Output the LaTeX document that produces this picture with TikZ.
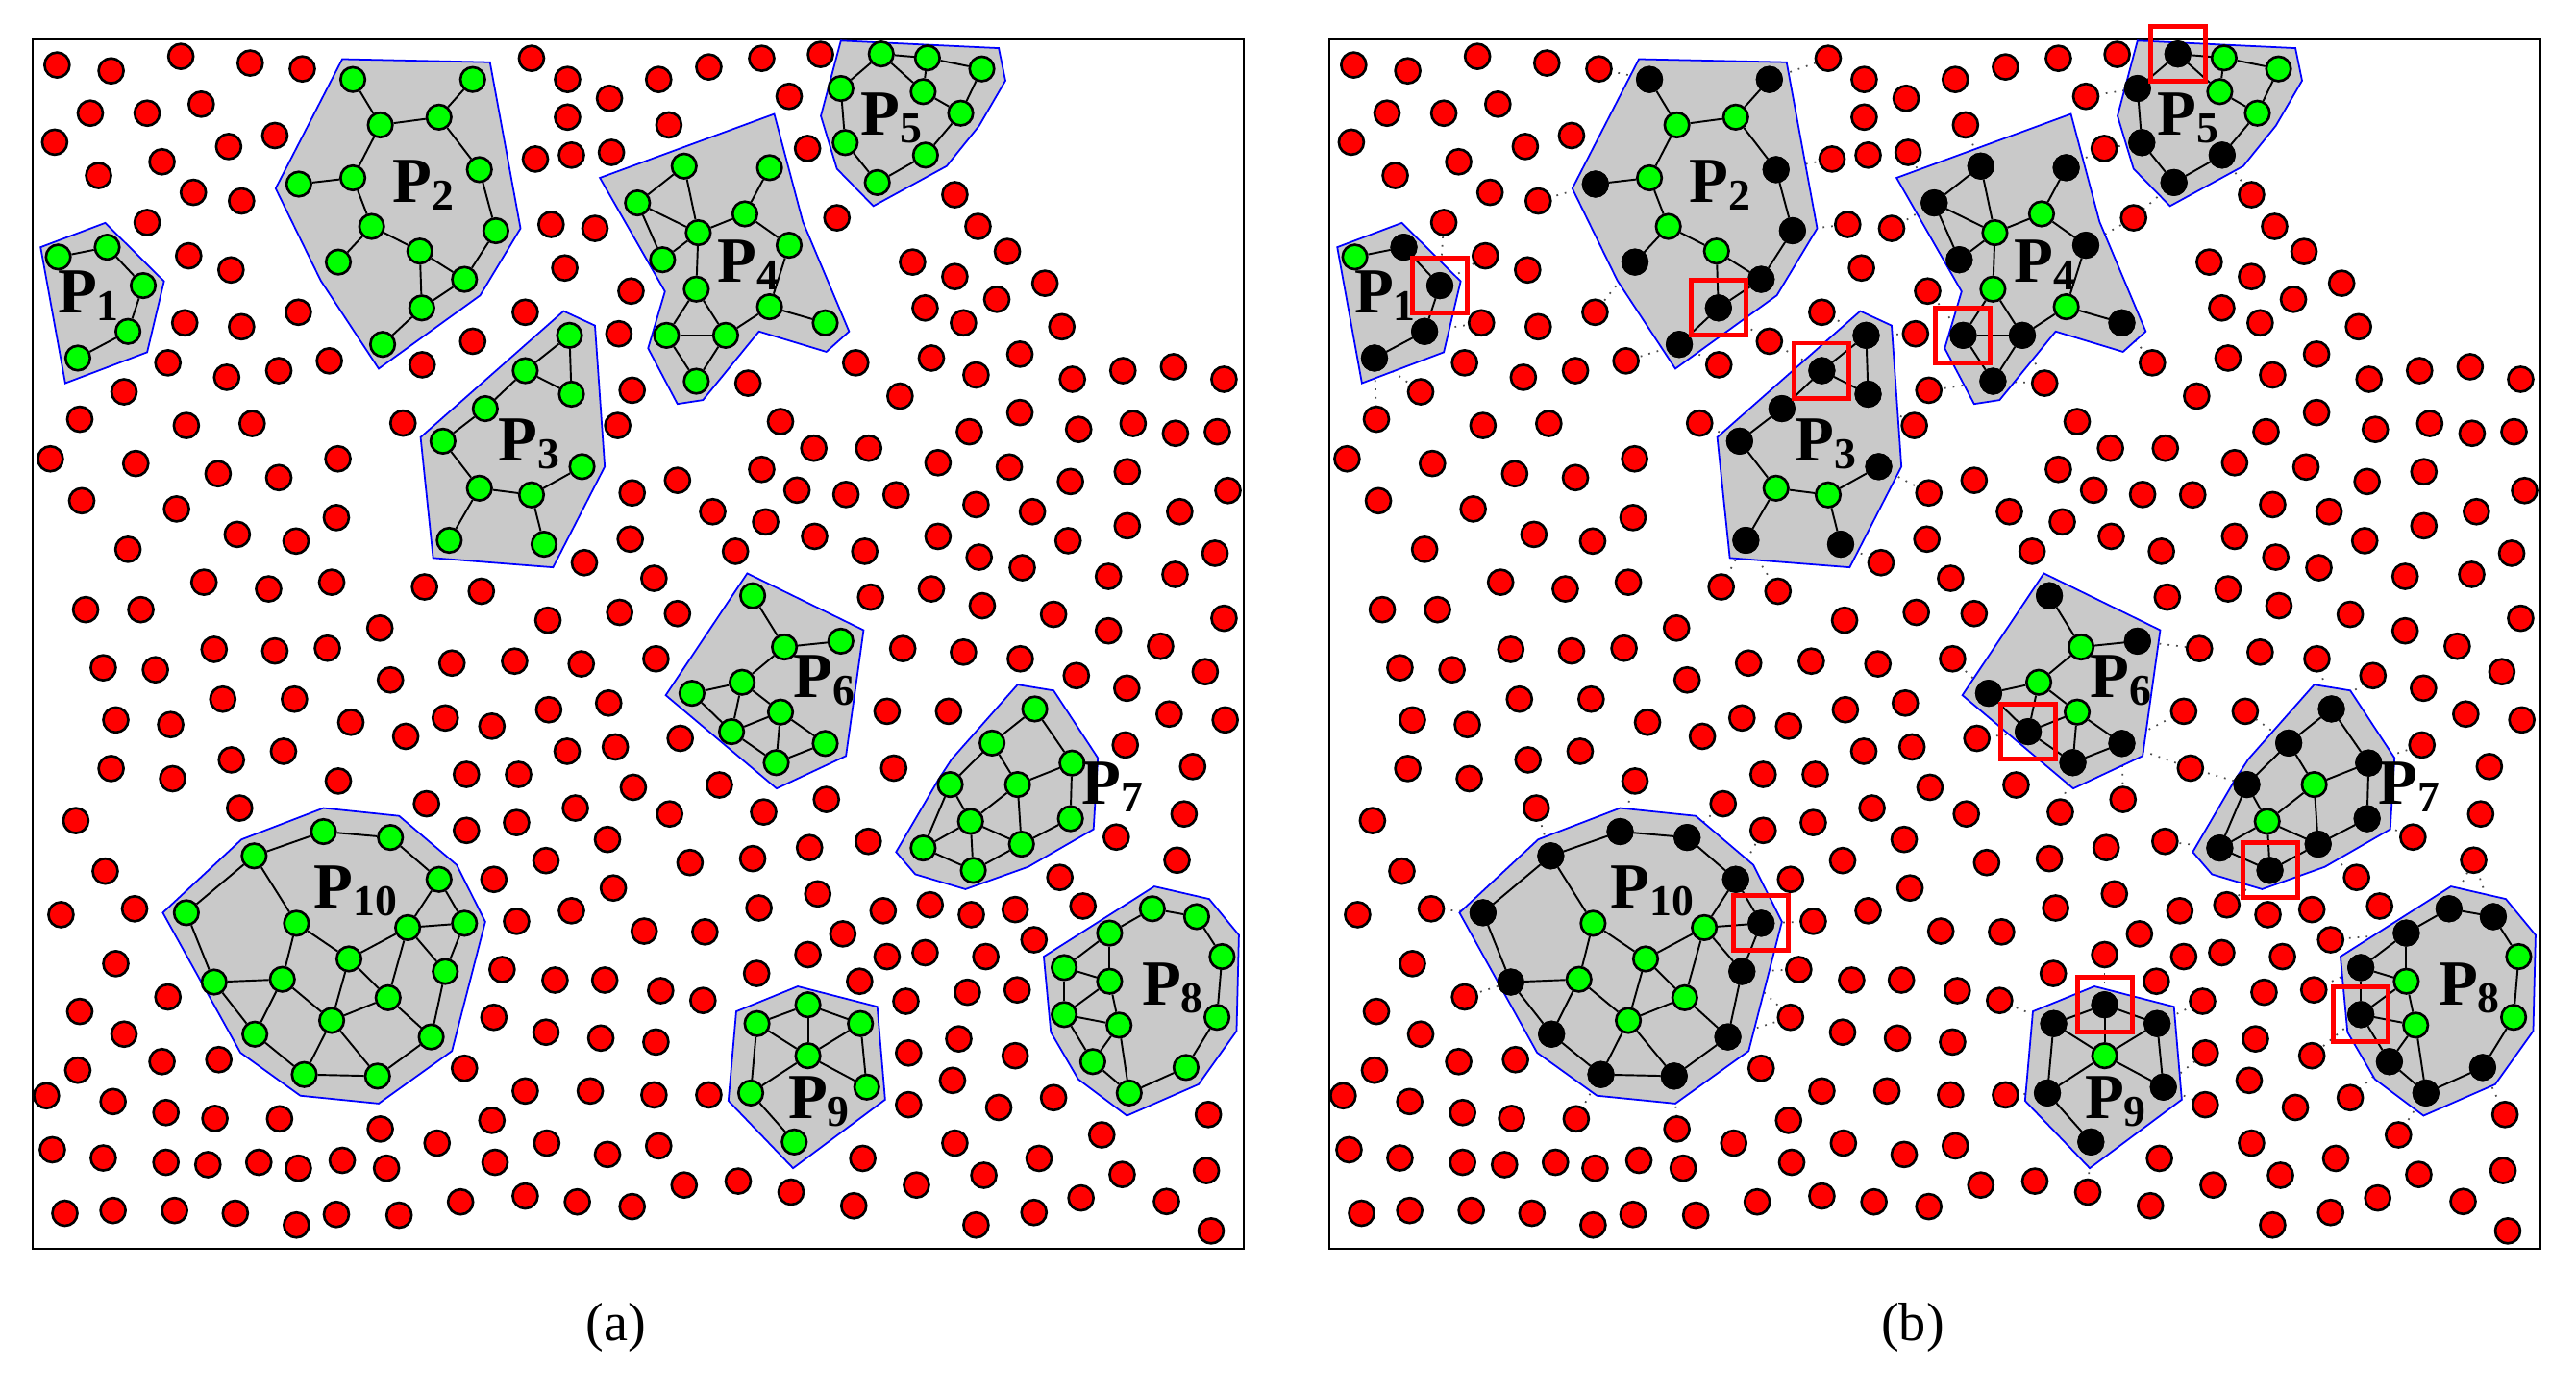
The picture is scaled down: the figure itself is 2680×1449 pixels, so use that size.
\documentclass[tikz,border=0pt]{standalone}
\usepackage{fontspec}
\setmainfont{Liberation Serif}
\usetikzlibrary{positioning}
\pgfdeclarelayer{bg}
\pgfsetlayers{bg,main}

\tikzset{
  rdot/.style={circle, draw=black, line width=0.75pt, fill=red, inner sep=0pt, minimum size=2.6mm},
  gnode/.style={circle, draw=black, line width=0.75pt, fill=green, inner sep=0pt, minimum size=2.55mm},
  bnode/.style={gnode, fill=black},
  gedge/.style={black, line width=0.55pt},
  hull/.style={draw=blue, line width=0.5pt, fill=black!21},
  plabel/.style={inner sep=0pt, anchor=base west, font=\fontsize{19}{19}\selectfont\bfseries},
  rsq/.style={draw=red, line width=1.4pt, minimum size=5.7mm, inner sep=0pt},
  linkdot/.style={black!70, dotted, line width=0.5pt},
  frame/.style={draw=black, line width=0.5pt},
  % one crop of a panel, in its own pixel grid
  qa/.style={shift={(30,35)}, x=0.0040816cm, y=-0.0040816cm},
  qb/.style={shift={(660,35)}, x=0.0040816cm, y=-0.0040816cm},
  qc/.style={shift={(30,660)}, x=0.0040816cm, y=-0.0040816cm},
  qd/.style={shift={(660,660)}, x=0.0040816cm, y=-0.0040816cm}
}

\newcommand{\pname}[1]{P\raisebox{-0.8mm}{\fontsize{13}{13}\selectfont #1}}

\newcommand{\drawpanel}[1]{%
  \draw[frame] (34,41) rectangle (1294,1299);
  \node[font=\fontsize{16}{16}\selectfont] (cap) at (641,1381) {(#1)};
  % top left
  \begin{scope}[qa]
    \foreach \x/\y in {72/80, 210/95, 388/58, 565/75, 698/90, 1283/63, 1375/117, 1482/165,
      157/203, 302/203, 440/180, 1375/213, 66/277, 510/288, 628/260, 1293/320, 1385/310, 1487/303,
      340/327, 178/362, 420/405, 543/427, 302/482, 1333/487, 1445/497,
      408/567, 516/603, 1368/598, 1537/657, 398/738, 543/748, 688/711, 1267/711, 1506/766,
      355/840, 505/877, 638/860, 767/835, 1004/845, 1133/785, 243/914, 1540/910,
      130/984, 402/1000, 570/995, 955/994, 1503/1000,
      55/1085, 273/1097, 483/1123, 638/1133, 789/1085, 1540/1172, 135/1192, 377/1213, 785/1235,
      253/1316, 532/1278, 682/1295, 1418/1350, 1535/1290,
      447/1400, 612/1417, 773/1400, 1010/1412, 1155/1423,
      145/1470, 286/1470, 896/1517, 1325/1497, 1508/1477}
      \node[rdot] at (\x,\y) {};
    % P1
    \draw[hull] (30,545) -- (195,483) -- (345,632) -- (302,813) -- (93,892) -- cycle;
    \foreach \n/\x/\y in {a/75/570, b/200/545, c/292/643, d/253/760, e/125/828}
      \node[gnode] (p1\n) at (\x,\y) {};
    \foreach \u/\v in {a/b, b/c, c/d, d/e}
      \draw[gedge] (p1\u) -- (p1\v);
    \node[plabel] (lab1) at (72,712) {\pname{1}};
    % P2
    \draw[hull] (800,65) -- (1177,73) -- (1255,497) -- (1152,668) -- (893,855) -- (745,630) -- (630,395) -- cycle;
    \foreach \n/\x/\y in {a/827/117, b/1133/117, c/897/233, d/1047/213, e/689/384, f/827/368, g/1150/347,
      h/875/492, i/1192/503, j/790/583, k/998/555, l/1112/627, m/1003/700, n/903/793}
      \node[gnode] (p2\n) at (\x,\y) {};
    \foreach \u/\v in {a/c, c/d, d/b, c/f, f/e, f/h, d/g, g/i, h/j, h/k, k/l, i/l, k/m, l/m, m/n}
      \draw[gedge] (p2\u) -- (p2\v);
    \node[plabel] (lab2) at (928,430) {\pname{2}};
    % P3
    \draw[hull] (1000,1030) -- (1365,708) -- (1445,745) -- (1470,1105) -- (1338,1362) -- (1032,1338) -- cycle;
    \foreach \n/\x/\y in {a/1380/770, b/1267/860, c/1385/920, d/1165/957, e/1057/1040, f/1412/1105,
      g/1150/1160, h/1283/1177, i/1073/1293, j/1315/1303}
      \node[gnode] (p3\n) at (\x,\y) {};
    \foreach \u/\v in {a/b, a/c, b/c, b/d, d/e, e/g, g/h, h/f, g/i, h/j}
      \draw[gedge] (p3\u) -- (p3\v);
    \node[plabel] (lab3) at (1196,1090) {\pname{3}};
  \end{scope}
  % top right
  \begin{scope}[qb]
    \foreach \x/\y in {62/117, 190/85, 325/63, 475/53, 395/160, 88/233, 442/293, 517/470,
      818/411, 877/492, 952/556, 710/583, 818/620, 1048/637, 742/700, 925/678, 840/738, 1091/748,
      565/840, 758/828, 872/871, 984/818, 1118/882, 1247/860, 1376/850, 1505/882, 290/892, 678/925,
      373/990, 984/967, 855/1016, 1134/1010, 1273/995, 1381/1020, 1488/1016, 458/1058, 598/1058,
      110/1140, 325/1112, 775/1095, 957/1106, 1113/1143, 1258/1118, 1515/1166, 415/1165, 540/1176,
      668/1177, 200/1220, 335/1246, 872/1202, 1016/1220, 1392/1220, 1258/1256, 460/1283, 588/1321,
      775/1283, 1107/1294, 1482/1326, 258/1321, 880/1336, 990/1363, 1210/1385, 1380/1380, 50/1390,
      603/1438, 758/1417, 888/1460, 1070/1482, 110/1480, 1210/1524, 1505/1492}
      \node[rdot] at (\x,\y) {};
    % P4
    \draw[hull] (-88,368) -- (357,205) -- (430,480) -- (548,760) -- (490,812) -- (318,760) -- (175,935) -- (110,945) -- (35,803) -- (78,658) -- cycle;
    \foreach \n/\x/\y in {a/127/338, b/345/342, c/8/432, d/282/460, e/163/508, f/395/540, g/72/577,
      h/158/652, i/345/697, j/487/738, k/82/770, l/233/770, m/158/887}
      \node[gnode] (p4\n) at (\x,\y) {};
    \foreach \u/\v in {a/c, a/e, c/e, c/g, e/d, d/b, d/f, e/g, e/h, f/i, i/j, i/l, h/k, h/l, k/l, k/m, l/m}
      \draw[gedge] (p4\u) -- (p4\v);
    \node[plabel] (lab4) at (211,635) {\pname{4}};
    % P5
    \draw[hull] (527,18) -- (930,37) -- (947,120) -- (880,235) -- (797,338) -- (610,440) -- (517,345) -- (476,210) -- cycle;
    \foreach \n/\x/\y in {a/630/52, b/748/62, c/887/90, d/527/140, e/737/148, f/833/203, g/538/278,
      h/743/310, i/620/380}
      \node[gnode] (p5\n) at (\x,\y) {};
    \foreach \u/\v in {a/b, a/d, a/e, b/e, b/c, c/f, e/f, d/g, f/h, g/i, h/i}
      \draw[gedge] (p5\u) -- (p5\v);
    \node[plabel] (lab5) at (576,260) {\pname{5}};
  \end{scope}
  % bottom left
  \begin{scope}[qc]
    \foreach \x/\y in {473/38, 628/42, 762/35, 190/85, 323/90, 1080/73, 1240/68, 1410/75, 923/116,
      495/165, 678/165, 1327/192, 1480/175, 222/218, 362/230, 822/224, 962/260, 1063/213, 1182/234,
      1374/298, 1497/287, 210/342, 367/368, 517/320, 650/298, 790/374, 1117/357, 1250/357, 1543/390,
      120/475, 538/443, 1015/432, 1395/443, 1117/500, 1245/480, 1477/523,
      195/604, 1320/577, 1187/625, 1492/647, 82/715, 270/700, 1245/732, 1385/705,
      222/840, 1208/855, 1343/882, 1470/882, 130/962, 355/925, 1187/977, 1320/1015, 1460/1030, 243/1020,
      125/1112, 340/1090, 485/1085, 1112/1107, 45/1177, 215/1192, 350/1220, 475/1235, 640/1236,
      1267/1165, 1433/1165, 897/1262, 1182/1240,
      60/1315, 190/1336, 350/1347, 457/1353, 587/1347, 688/1362, 800/1342, 913/1362, 1042/1298,
      1190/1347, 1322/1298, 1477/1327, 92/1477, 215/1470, 372/1470, 527/1477, 683/1507, 785/1480,
      945/1482, 1102/1448, 1267/1433, 1400/1448, 1540/1460}
      \node[rdot] at (\x,\y) {};
    % P10
    \draw[hull] (342,710) -- (543,523) -- (752,443) -- (945,463) -- (1092,588) -- (1165,733) -- (1080,1063) -- (893,1197) -- (693,1177) -- (540,1067) -- cycle;
    \foreach \n/\x/\y in {a/752/503, b/923/518, c/575/565, d/1047/625, e/402/710, f/683/737, g/967/748,
      h/1112/737, i/817/828, j/1063/860, k/473/887, l/647/880, m/917/927, n/773/985, o/577/1020,
      p/1027/1027, q/703/1123, r/890/1127}
      \node[gnode] (p10\n) at (\x,\y) {};
    \foreach \u/\v in {a/b, a/c, b/d, c/e, c/f, d/g, d/h, g/h, e/k, f/i, f/l, g/i, g/j, g/m, h/j, i/m,
      i/n, j/p, k/l, k/o, l/n, l/o, m/n, m/p, n/q, n/r, o/q, q/r, r/p}
      \draw[gedge] (p10\u) -- (p10\v);
    \node[plabel] (lab10) at (726,697) {\pname{10}};
  \end{scope}
  % bottom right
  \begin{scope}[qd]
    \foreach \x/\y in {55/62, 685/36, 840/45, 985/62, 1343/30, 1457/95, 1128/105, 1257/137,
      645/196, 802/196, 1365/203, 1508/218, 117/265, 1253/282, 662/341, 1425/337,
      217/384, 490/421, 90/458, 330/453, 1403/458, 1230/517, 597/528, 447/544,
      142/582, 302/572, 1385/576, 1086/620, 468/662, 318/698, 635/705, 755/690, 860/715, 972/702, 1145/693,
      25/757, 180/759, 532/764, 1020/779, 443/817, 645/822, 742/812, 897/822,
      312/865, 575/885, 67/909, 175/934, 693/936, 850/913, 977/907, 55/1040, 700/1068, 828/1032, 972/1075,
      50/1175, 190/1175, 700/1200, 812/1138, 930/1207, 1070/1182, 1465/1225,
      62/1305, 583/1337, 818/1298, 1193/1277, 1033/1337,
      127/1405, 265/1395, 400/1423, 720/1405, 892/1380, 1245/1378, 1460/1368,
      560/1458, 1140/1438, 1358/1447, 872/1507, 1020/1475, 1472/1522}
      \node[rdot] at (\x,\y) {};
    % P6
    \draw[hull] (288,-156) -- (585,-11) -- (540,310) -- (363,393) -- (80,155) -- cycle;
    \foreach \n/\x/\y in {a/302/-99, b/383/32, c/527/17, d/147/150, e/275/122, f/373/198, g/248/248,
      h/487/278, i/362/327}
      \node[gnode] (p6\n) at (\x,\y) {};
    \foreach \u/\v in {a/b, b/c, b/e, e/d, e/f, e/g, d/g, g/f, f/h, f/i, g/i, h/i}
      \draw[gedge] (p6\u) -- (p6\v);
    \node[plabel] (lab6) at (404,160) {\pname{6}};
    % P7
    \draw[hull] (978,128) -- (1070,143) -- (1183,315) -- (1172,497) -- (1005,593) -- (845,650) -- (717,612) -- (668,555) -- (775,372) -- (810,318) -- cycle;
    \foreach \n/\x/\y in {a/1022/190, b/913/277, c/1117/328, d/806/383, e/978/383, f/1113/470,
      g/858/477, h/737/545, i/988/535, j/865/602}
      \node[gnode] (p7\n) at (\x,\y) {};
    \foreach \u/\v in {a/b, a/c, b/d, b/e, c/e, c/f, d/g, d/h, e/g, e/i, g/h, g/i, g/j, h/j, i/j, f/i}
      \draw[gedge] (p7\u) -- (p7\v);
    \node[plabel] (lab7) at (1141,432) {\pname{7}};
    % P8
    \draw[hull] (1045,822) -- (1327,643) -- (1467,675) -- (1543,767) -- (1537,1012) -- (1440,1148) -- (1257,1228) -- (1133,1135) -- (1063,1015) -- cycle;
    \foreach \n/\x/\y in {a/1322/700, b/1435/720, c/1213/762, d/1500/822, e/1097/850, f/1213/885,
      g/1097/970, h/1237/997, i/1487/977, j/1170/1090, k/1408/1105, l/1263/1170}
      \node[gnode] (p8\n) at (\x,\y) {};
    \foreach \u/\v in {a/b, a/c, b/d, d/i, i/k, k/l, c/e, c/f, e/f, e/g, f/g, f/h, g/h, g/j, h/j, h/l, j/l}
      \draw[gedge] (p8\u) -- (p8\v);
    \node[plabel] (lab8) at (1294,945) {\pname{8}};
    % P9
    \draw[hull] (260,962) -- (417,898) -- (620,950) -- (640,1187) -- (405,1362) -- (240,1190) -- cycle;
    \foreach \n/\x/\y in {a/443/945, b/313/993, c/577/993, d/443/1075, e/297/1170, f/593/1155, g/408/1295}
      \node[gnode] (p9\n) at (\x,\y) {};
    \foreach \u/\v in {a/b, a/c, a/d, b/d, c/d, b/e, c/f, d/e, d/f, e/g}
      \draw[gedge] (p9\u) -- (p9\v);
    \node[plabel] (lab9) at (391,1235) {\pname{9}};
  \end{scope}
}

\begin{document}
\begin{tikzpicture}[x=0.01cm, y=-0.01cm]
  \useasboundingbox (0,0) rectangle (2680,1449);

  \begin{scope}[name prefix=a-]
    \drawpanel{a}
  \end{scope}

  \begin{scope}[shift={(1349,0)}, name prefix=b-]
    \drawpanel{b}
    % boundary nodes
    \foreach \n in {p1b, p1c, p1d, p1e,
      p2a, p2b, p2e, p2g, p2i, p2j, p2l, p2m, p2n,
      p3a, p3b, p3c, p3d, p3e, p3f, p3i, p3j,
      p4a, p4b, p4c, p4f, p4g, p4j, p4k, p4l, p4m,
      p5a, p5d, p5g, p5h, p5i,
      p6a, p6c, p6d, p6g, p6h, p6i,
      p7a, p7b, p7c, p7d, p7f, p7h, p7i, p7j,
      p8a, p8b, p8c, p8e, p8g, p8j, p8k, p8l,
      p9a, p9b, p9c, p9e, p9f, p9g,
      p10a, p10b, p10c, p10d, p10e, p10h, p10j, p10k, p10o, p10p, p10q, p10r}
      \node[bnode] at (\n) {};
    \foreach \n in {p1c, p2m, p3b, p4k, p5a, p6g, p7j, p8g, p9a, p10h}
      \node[rsq] at (\n) {};
    % links to the outside
    \begin{pgfonlayer}{bg}
      \begin{scope}[qa]
        \foreach \n/\x/\y in {p1c/302/482, p1e/130/984, p1e/243/914, p1c/408/567, p1d/398/738,
          p2a/698/90, p2e/543/427, p2j/688/711, p2n/767/835, p2n/1004/845, p2m/1133/785,
          p2g/1293/320, p2i/1333/487, p2b/1283/63,
          p3a/1267/711, p3b/1133/785, p3e/955/994, p3c/1503/1000, p3a/1506/766, p3f/1540/1172,
          p3i/1010/1412, p3i/1155/1423, p3j/1418/1350}
          \draw[linkdot] (\n) -- (\x,\y);
      \end{scope}
      \begin{scope}[qb]
        \foreach \n/\x/\y in {p4c/-98/497, p4c/-56/303, p4a/88/233, p4b/442/293, p4f/517/470,
          p4j/565/840, p4m/290/892, p4m/-3/910, p4k/-6/657, p4l/290/892,
          p5d/395/160, p5g/442/293, p5i/517/470, p5h/818/411}
          \draw[linkdot] (\n) -- (\x,\y);
      \end{scope}
      \begin{scope}[qc]
        \foreach \n/\x/\y in {p10a/790/374, p10c/538/443, p10e/270/700, p10k/355/925, p10q/640/1236,
          p10r/897/1262, p10p/1187/977, p10j/1208/855, p10j/1187/977, p10h/1245/732,
          p10d/1117/500, p10b/1015/432}
          \draw[linkdot] (\n) -- (\x,\y);
      \end{scope}
      \begin{scope}[qd]
        \foreach \n/\x/\y in {p6d/55/62, p6g/117/265, p6h/645/196, p6h/662/341, p6i/330/453,
          p6h/490/421, p6c/685/36,
          p7d/662/341, p7a/985/62, p7b/802/196, p7c/1253/282, p7f/1230/517, p7h/597/528,
          p7j/755/690, p7i/1086/620, p7a/1128/105,
          p8a/1385/576, p8b/1385/576, p8e/977/907, p8g/972/1075, p8j/1070/1182, p8l/1193/1277,
          p8k/1465/1225, p8c/1020/779,
          p9b/175/934, p9a/443/817, p9c/693/936, p9f/700/1068, p9f/700/1200, p9e/190/1175,
          p9g/400/1423}
          \draw[linkdot] (\n) -- (\x,\y);
      \end{scope}
    \end{pgfonlayer}
  \end{scope}
\end{tikzpicture}
\end{document}
